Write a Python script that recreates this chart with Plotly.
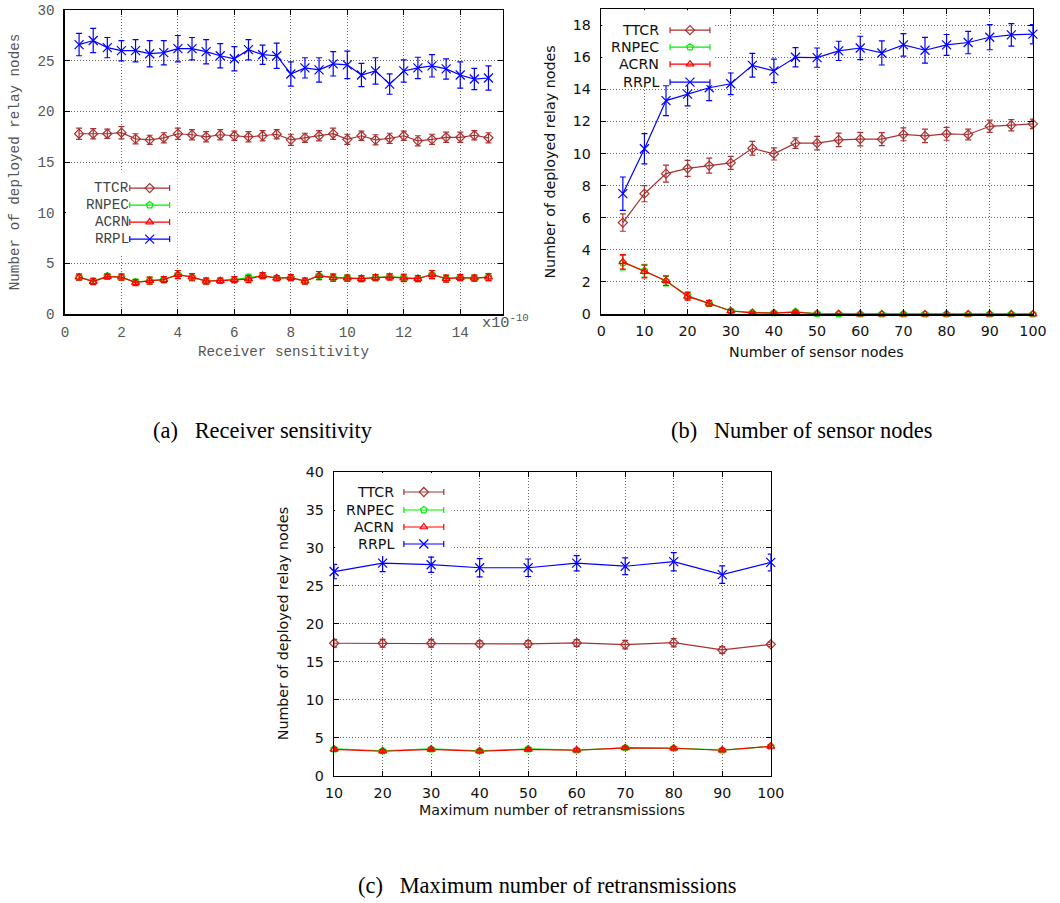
import plotly.graph_objects as go

# Target picture is 1060x903. The rendered page is captured with the body's
# default 8px margin and at a 1060/1080 scale, so every target-pixel position
# below is converted to figure pixels with px_x / px_y.
K = 1060 / 1080          # capture scale
OFF = 8                  # body margin in page pixels
W, H = 1064, 904         # figure size in page pixels

# ---------------- data ----------------
series_names = ["TTCR", "RNPEC", "ACRN", "RRPL"]
series_colors = ["#a83232", "#00ee00", "#ff0000", "#0000ff"]
series_symbols = ["diamond-open", "pentagon-open", "triangle-up-open", "x-thin-open"]

# (a) Receiver sensitivity (x in units of 1e-10)
a_x = [0.5, 1.0, 1.5, 2.0, 2.5, 3.0, 3.5, 4.0, 4.5, 5.0, 5.5, 6.0, 6.5, 7.0, 7.5,
       8.0, 8.5, 9.0, 9.5, 10.0, 10.5, 11.0, 11.5, 12.0, 12.5, 13.0, 13.5, 14.0, 14.5, 15.0]
a_ttcr = [17.8, 17.8, 17.8, 17.9, 17.3, 17.2, 17.4, 17.8, 17.7, 17.5, 17.7, 17.6, 17.5, 17.6, 17.75,
          17.2, 17.4, 17.6, 17.8, 17.25, 17.6, 17.2, 17.35, 17.6, 17.1, 17.25, 17.45, 17.45, 17.65, 17.4]
a_ttcr_err = [0.55, 0.5, 0.45, 0.6, 0.5, 0.45, 0.5, 0.55, 0.5, 0.5, 0.5, 0.45, 0.5, 0.5, 0.45,
              0.55, 0.45, 0.5, 0.55, 0.5, 0.45, 0.5, 0.5, 0.45, 0.5, 0.5, 0.5, 0.5, 0.45, 0.5]
a_rnpec = [3.65, 3.25, 3.75, 3.65, 3.15, 3.3, 3.4, 3.9, 3.65, 3.25, 3.3, 3.4, 3.6, 3.8, 3.55,
           3.6, 3.25, 3.8, 3.6, 3.55, 3.5, 3.6, 3.7, 3.6, 3.5, 3.9, 3.5, 3.6, 3.55, 3.65]
a_acrn = [3.64, 3.2, 3.7, 3.64, 3.1, 3.3, 3.4, 3.9, 3.64, 3.25, 3.3, 3.4, 3.45, 3.8, 3.55,
          3.6, 3.25, 3.8, 3.6, 3.55, 3.5, 3.6, 3.65, 3.55, 3.5, 3.9, 3.5, 3.6, 3.55, 3.65]
a_low_err = [0.3, 0.3, 0.25, 0.3, 0.3, 0.35, 0.3, 0.4, 0.35, 0.3, 0.25, 0.3, 0.35, 0.3, 0.25,
             0.3, 0.3, 0.4, 0.35, 0.3, 0.3, 0.3, 0.3, 0.35, 0.3, 0.4, 0.35, 0.3, 0.3, 0.35]
a_rrpl = [26.6, 27.0, 26.3, 26.0, 26.0, 25.7, 25.8, 26.2, 26.2, 25.9, 25.5, 25.2, 26.1, 25.6, 25.5,
          23.7, 24.3, 24.1, 24.7, 24.6, 23.6, 24.0, 22.7, 24.0, 24.3, 24.5, 24.2, 23.6, 23.2, 23.3]
a_rrpl_err = [1.1, 1.2, 1.0, 1.0, 1.1, 1.3, 1.2, 1.3, 1.1, 1.2, 1.2, 1.2, 1.0, 0.95, 1.25,
              1.2, 1.0, 1.2, 1.2, 1.35, 1.15, 1.3, 1.0, 1.1, 1.05, 1.1, 1.0, 1.3, 1.05, 1.2]

# (b) Number of sensor nodes
b_x = [5, 10, 15, 20, 25, 30, 35, 40, 45, 50, 55, 60, 65, 70, 75, 80, 85, 90, 95, 100]
b_ttcr = [5.7, 7.5, 8.75, 9.08, 9.25, 9.42, 10.33, 9.98, 10.65, 10.65, 10.85, 10.9, 10.9, 11.2,
          11.1, 11.23, 11.19, 11.7, 11.77, 11.85]
b_ttcr_err = [0.54, 0.5, 0.53, 0.5, 0.47, 0.4, 0.43, 0.38, 0.33, 0.42, 0.42, 0.42, 0.4, 0.4,
              0.42, 0.4, 0.33, 0.38, 0.35, 0.3]
b_rnpec = [3.2, 2.7, 2.05, 1.15, 0.65, 0.2, 0.1, 0.08, 0.14, 0.03, 0.02, 0, 0, 0, 0, 0, 0, 0, 0, 0]
b_acrn = [3.25, 2.65, 2.08, 1.1, 0.67, 0.19, 0.08, 0.06, 0.12, 0.02, 0.02, 0, 0, 0, 0, 0, 0, 0, 0, 0]
b_low_err = [0.45, 0.4, 0.3, 0.23, 0.18, 0.1, 0.05, 0.05, 0.08, 0.02, 0.02, 0, 0, 0, 0, 0, 0, 0, 0, 0]
b_rrpl = [7.5, 10.3, 13.3, 13.7, 14.1, 14.35, 15.5, 15.15, 16.0, 15.98, 16.4, 16.58, 16.27, 16.77,
          16.44, 16.77, 16.92, 17.25, 17.4, 17.44]
b_rrpl_err = [1.04, 0.94, 0.94, 0.73, 0.8, 0.67, 0.74, 0.73, 0.6, 0.6, 0.6, 0.73, 0.75, 0.7,
              0.8, 0.65, 0.7, 0.78, 0.7, 0.6]

# (c) Maximum number of retransmissions
c_x = [10, 20, 30, 40, 50, 60, 70, 80, 90, 100]
c_ttcr = [17.46, 17.46, 17.46, 17.37, 17.37, 17.5, 17.28, 17.54, 16.58, 17.32]
c_ttcr_err = [0.5, 0.5, 0.5, 0.4, 0.45, 0.45, 0.55, 0.55, 0.45, 0.3]
c_rnpec = [3.55, 3.3, 3.55, 3.3, 3.55, 3.4, 3.7, 3.65, 3.4, 3.9]
c_acrn = [3.5, 3.25, 3.5, 3.25, 3.5, 3.38, 3.68, 3.64, 3.38, 3.9]
c_low_err = [0.2, 0.2, 0.2, 0.2, 0.2, 0.2, 0.2, 0.2, 0.2, 0.2]
c_rrpl = [26.9, 28.0, 27.8, 27.4, 27.4, 28.0, 27.6, 28.2, 26.5, 28.1]
c_rrpl_err = [0.95, 1.1, 1.0, 1.2, 1.15, 1.0, 1.1, 1.2, 1.15, 1.1]

# text
y_title = "Number of deployed relay nodes"
x_titles = ["Receiver sensitivity", "Number of sensor nodes", "Maximum number of retransmissions"]
caption_tags = ["(a)", "(b)", "(c)"]
caption_texts = ["Receiver sensitivity", "Number of sensor nodes", "Maximum number of retransmissions"]

# ---------------- layout geometry (target pixels) ----------------
panels = {
    "a": dict(l=64, r=503, t=10, b=314),
    "b": dict(l=602, r=1035, t=9, b=314),
    "c": dict(l=334, r=772, t=472, b=776),
}
MONO = "Liberation Mono, DejaVu Sans Mono, monospace"
SANS = "DejaVu Sans, Verdana, sans-serif"
SERIF = "Liberation Serif, Times New Roman, serif"
FS = 14 / K          # 14px text in the target picture
CAP = 22 / K


def px_x(s):
    return (s / K - OFF) / W


def px_y(s):
    return 1 - (s / K - OFF) / H


fig = go.Figure()

panel_data = [
    ("x", "y", a_x, [(a_ttcr, a_ttcr_err), (a_rnpec, a_low_err), (a_acrn, a_low_err), (a_rrpl, a_rrpl_err)]),
    ("x2", "y2", b_x, [(b_ttcr, b_ttcr_err), (b_rnpec, b_low_err), (b_acrn, b_low_err), (b_rrpl, b_rrpl_err)]),
    ("x3", "y3", c_x, [(c_ttcr, c_ttcr_err), (c_rnpec, c_low_err), (c_acrn, c_low_err), (c_rrpl, c_rrpl_err)]),
]

for xa, ya, xs, sers in panel_data:
    for i, (vals, errs) in enumerate(sers):
        fig.add_trace(go.Scatter(
            x=xs, y=vals, xaxis=xa, yaxis=ya, mode="lines+markers",
            name=series_names[i], showlegend=False, cliponaxis=False,
            line=dict(color=series_colors[i], width=1.2),
            marker=dict(symbol=series_symbols[i], size=7 if i != 3 else 9,
                        color=series_colors[i], line=dict(color=series_colors[i], width=1.2)),
            error_y=dict(type="data", array=errs, visible=True, color=series_colors[i],
                         thickness=1.2, width=3),
        ))

# ---------------- custom legends (overlay axis in target pixels) ----------------
legend_specs = [
    dict(text_r=130, mark_x=149, half=20, rows=[188, 205, 222, 239], font=MONO, fcolor="#444",
         box=(65, 177, 172, 256)),
    dict(text_r=662, mark_x=691, half=20, rows=[30, 47, 64, 82], font=SANS, fcolor="#111",
         box=(603, 716, 10, 85)),
    dict(text_r=396, mark_x=424, half=20, rows=[492, 510, 527, 544], font=SANS, fcolor="#111",
         box=(335, 452, 473, 556)),
]

for spec in legend_specs:
    bl, br, bt, bb = spec["box"]
    fig.add_shape(type="rect", xref="x4", yref="y4", layer="below",
                  x0=bl, x1=br, y0=bt, y1=bb,
                  fillcolor="white", line=dict(width=0))
    for i, name in enumerate(series_names):
        fig.add_trace(go.Scatter(
            x=[spec["mark_x"]], y=[spec["rows"][i]], xaxis="x4", yaxis="y4", mode="markers",
            showlegend=False, hoverinfo="skip", cliponaxis=False,
            marker=dict(symbol=series_symbols[i], size=7 if i != 3 else 9, color=series_colors[i],
                        line=dict(color=series_colors[i], width=1.2)),
            error_x=dict(type="constant", value=spec["half"], visible=True, color=series_colors[i],
                         thickness=1.2, width=3),
        ))
        fig.add_annotation(xref="paper", yref="paper", x=px_x(spec["text_r"]), y=px_y(spec["rows"][i]),
                           text=name, showarrow=False, xanchor="right", yanchor="middle",
                           font=dict(family=spec["font"], size=FS, color=spec["fcolor"]))


# ---------------- axes ----------------
def axis_common(font, color, size=FS):
    return dict(showline=True, linecolor="black", linewidth=1.5, mirror="allticks",
                ticks="inside", ticklen=5, tickcolor="black", tickwidth=1,
                showgrid=True, gridcolor="#666", gridwidth=1, griddash="1px,2px",
                zeroline=False, tickfont=dict(family=font, size=size, color=color))


pa, pb, pc = panels["a"], panels["b"], panels["c"]
fig.update_layout(
    width=W, height=H, margin=dict(l=0, r=0, t=0, b=0),
    paper_bgcolor="white", plot_bgcolor="rgba(0,0,0,0)", showlegend=False,
    xaxis=dict(domain=[px_x(pa["l"]), px_x(pa["r"])], anchor="y", range=[0, 15.5],
               tickvals=[0, 2, 4, 6, 8, 10, 12, 14], ticklabelstandoff=4, **axis_common(MONO, "#555")),
    yaxis=dict(domain=[px_y(pa["b"]), px_y(pa["t"])], anchor="x", range=[0, 30], dtick=5,
               ticklabelstandoff=6, **axis_common(MONO, "#555")),
    xaxis2=dict(domain=[px_x(pb["l"]), px_x(pb["r"])], anchor="y2", range=[0, 100], dtick=10,
                ticklabelstandoff=3, **axis_common(SANS, "#111")),
    yaxis2=dict(domain=[px_y(pb["b"]), px_y(pb["t"])], anchor="x2", range=[0, 19],
                tickvals=[0, 2, 4, 6, 8, 10, 12, 14, 16, 18], ticklabelstandoff=6, **axis_common(SANS, "#111")),
    xaxis3=dict(domain=[px_x(pc["l"]), px_x(pc["r"])], anchor="y3", range=[10, 100], dtick=10,
                ticklabelstandoff=3, **axis_common(SANS, "#111")),
    yaxis3=dict(domain=[px_y(pc["b"]), px_y(pc["t"])], anchor="x3", range=[0, 40], dtick=5,
                ticklabelstandoff=6, **axis_common(SANS, "#111")),
    xaxis4=dict(domain=[0, 1], anchor="y4", range=[K * OFF, K * (W + OFF)], visible=False, fixedrange=True),
    yaxis4=dict(domain=[0, 1], anchor="x4", range=[K * (H + OFF), K * OFF], visible=False, fixedrange=True),
)

# x10^-10 multiplier
fig.add_annotation(xref="paper", yref="paper", x=px_x(480), y=px_y(322), xanchor="left", yanchor="middle",
                   text="x10<sup>-10</sup>", showarrow=False, font=dict(family=MONO, size=15 / K, color="#555"))

# axis titles
titles = [
    (x_titles[0], 283, 352, 0, MONO, "#555"),
    (y_title, 14, 162, -90, MONO, "#555"),
    (x_titles[1], 818, 352, 0, SANS, "#111"),
    (y_title, 551, 162, -90, SANS, "#111"),
    (x_titles[2], 553, 810, 0, SANS, "#111"),
    (y_title, 283, 624, -90, SANS, "#111"),
]
for txt, x, y, ang, fnt, col in titles:
    fig.add_annotation(xref="paper", yref="paper", x=px_x(x), y=px_y(y), text=txt, showarrow=False,
                       xanchor="center", yanchor="middle", textangle=ang,
                       font=dict(family=fnt, size=FS, color=col))

# captions (wider gap after the tag, as in the typeset figure)
for tag, txt, x, y in [(caption_tags[0], caption_texts[0], 263, 430),
                       (caption_tags[1], caption_texts[1], 803, 430),
                       (caption_tags[2], caption_texts[2], 548, 886)]:
    fig.add_annotation(xref="paper", yref="paper", x=px_x(x), y=px_y(y),
                       text=tag + "\u00a0\u2002" + txt, showarrow=False,
                       xanchor="center", yanchor="middle",
                       font=dict(family=SERIF, size=CAP, color="black"))

fig.write_html("out.html", config={"staticPlot": True})
